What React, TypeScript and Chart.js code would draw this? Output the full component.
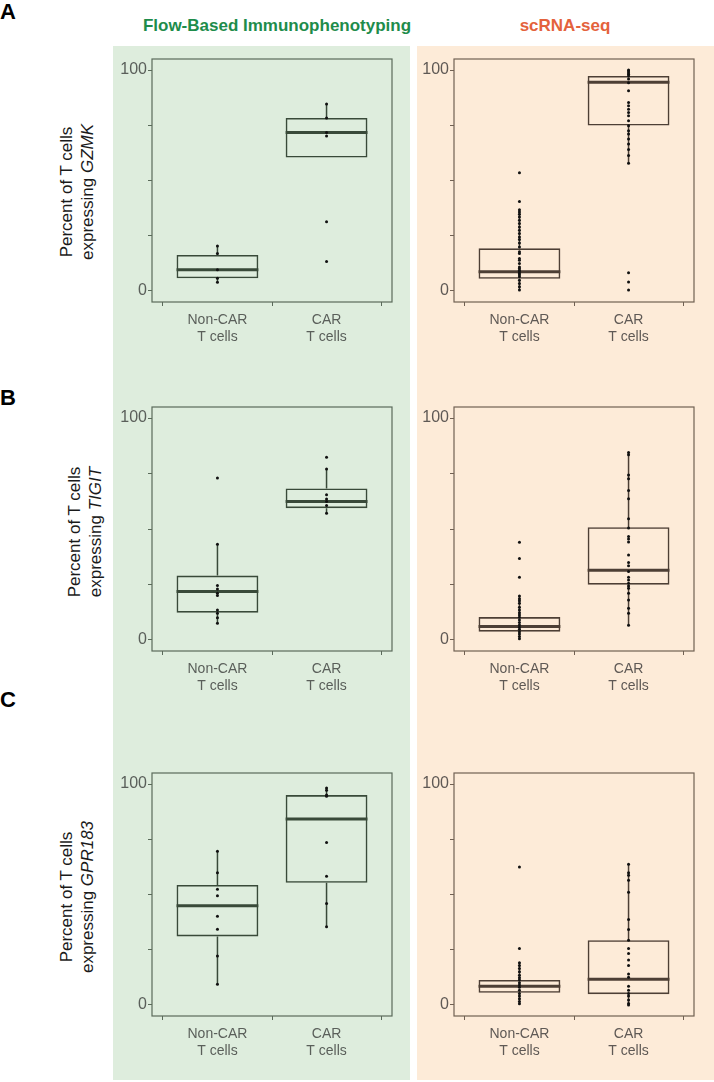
import React, { useEffect, useRef } from "react";
import { Chart, registerables } from "chart.js";
Chart.register(...registerables);

// ---------- data ----------
const categories = [["Non-CAR", "T cells"], ["CAR", "T cells"]];
const yTickValues = [0, 25, 50, 75, 100];
const yTickLabels = ["0", "", "", "", "100"];
const columnTitles = ["Flow-Based Immunophenotyping", "scRNA-seq"];
const rowLetters = ["A", "B", "C"];
const genes = ["GZMK", "TIGIT", "GPR183"];

// box stats per category: [lower whisker, Q1, median, Q3, upper whisker]
const gzmkFlowBoxes = [[3.9, 5.7, 9.6, 16.3, 20.3], [60.4, 60.4, 71.7, 78.3, 84.6]];
const gzmkFlowNonCar = [20.3, 16.9, 9.6, 5.7, 3.9];
const gzmkFlowCar = [84.6, 78.3, 71.7, 70.2, 31.3, 13.3];

const gzmkScBoxes = [[0.4, 5.5, 8.7, 19.3, 36.8], [57.8, 74.9, 94.5, 97.3, 100]];
const gzmkScNonCar = [53.5, 40.5, 36.8, 35.7, 34.7, 33.5, 32.0, 30.5, 28.9, 27.5, 26.0, 24.4, 23.3, 21.7, 19.9, 17.7, 16.9, 14.7, 13.9, 12.4, 10.9, 10.2, 9.4, 8.7, 7.9, 7.2, 6.4, 4.9, 3.4, 1.9, 0.4];
const gzmkScCar = [100, 99.6, 98.8, 98.1, 97.3, 95.9, 94.3, 90.6, 85.3, 83.8, 82.3, 80.8, 79.3, 77.1, 74.8, 72.5, 71.1, 68.8, 66.5, 64.0, 61.3, 57.8, 8.2, 4.0, 0.4];

const tigitFlowBoxes = [[7.5, 12.3, 21.8, 29.0, 43.1], [57.1, 59.4, 62.4, 68.3, 77.0]];
const tigitFlowNonCar = [73.0, 43.1, 24.5, 23.0, 21.0, 20.0, 13.5, 12.0, 10.0, 7.5];
const tigitFlowCar = [82.4, 77.0, 65.4, 63.5, 62.4, 60.6, 57.1];

const tigitScBoxes = [[0.5, 3.7, 6.1, 10.3, 19.8], [6.6, 24.9, 31.4, 50.8, 84.5]];
const tigitScNonCar = [44.0, 36.7, 28.3, 19.8, 18.6, 17.7, 16.5, 14.7, 13.5, 12.3, 11.2, 10.2, 9.0, 7.8, 6.7, 5.7, 4.8, 3.7, 2.7, 1.5, 0.5];
const tigitScCar = [84.5, 83.5, 74.4, 72.6, 67.4, 63.6, 54.6, 50.4, 46.6, 45.5, 44.1, 38.3, 34.9, 33.4, 30.8, 28.3, 27.0, 25.5, 24.3, 23.3, 21.0, 18.0, 14.3, 12.0, 6.6];

const gpr183FlowBoxes = [[9.4, 31.0, 44.9, 54.3, 69.6], [35.4, 55.3, 84.2, 95.0, 98.2]];
const gpr183FlowNonCar = [69.6, 59.9, 52.4, 49.4, 40.1, 34.3, 22.2, 9.4];
const gpr183FlowCar = [98.2, 97.2, 95.0, 94.5, 73.5, 58.3, 45.9, 35.4];

const gpr183ScBoxes = [[0.6, 5.5, 8.5, 11.3, 19.1], [0, 4.9, 11.6, 29.3, 63.7]];
const gpr183ScNonCar = [62.5, 25.6, 19.1, 17.9, 16.5, 15.0, 13.5, 12.3, 11.3, 10.0, 9.0, 8.0, 6.7, 5.2, 4.0, 2.8, 1.6, 0.6];
const gpr183ScCar = [63.7, 59.8, 58.7, 56.5, 51.0, 38.7, 34.2, 29.3, 25.6, 23.3, 20.3, 17.9, 14.0, 12.5, 8.5, 6.7, 5.2, 4.0, 2.2, 0.7, 0];

// ---------- styling / layout ----------
const FONT = "'Liberation Sans', Arial, Helvetica, sans-serif";
const greenBg = "#deeddd";
const orangeBg = "#fdebd8";
const greenTitle = "#1e8c4b";
const orangeTitle = "#e4623c";
const themes = {
  green: { frame: "#5a6a5a", line: "#394a39", tick: "#5a5f5a" },
  orange: { frame: "#716153", line: "#4d3f35", tick: "#5f5955" },
};

const PADL = 44;
const PADT = 12;
const PADR = 8;
const XH = 50;

type PanelProps = {
  boxes: number[][];
  groups: number[][];
  left: number;
  top: number;
  width: number;
  height: number;
  theme: "green" | "orange";
};

function BoxPanel({ boxes, groups, left, top, width, height, theme }: PanelProps) {
  const ref = useRef<HTMLCanvasElement>(null);
  const cw = width + PADL + PADR;
  const ch = height + PADT + XH;
  useEffect(() => {
    const t = themes[theme];
    const whiskers: any[] = [];
    const medians: any[] = [];
    boxes.forEach((b, i) => {
      whiskers.push({ x: i, y: b[0] }, { x: i, y: b[1] }, { x: i, y: null });
      whiskers.push({ x: i, y: b[3] }, { x: i, y: b[4] }, { x: i, y: null });
      medians.push({ x: i - 0.375, y: b[2] }, { x: i + 0.375, y: b[2] }, { x: i, y: null });
    });
    const points = groups.flatMap((g, i) => g.map((v) => ({ x: i, y: v })));
    const frame = {
      id: "frame",
      afterDraw(chart: any) {
        const { ctx, chartArea: a } = chart;
        ctx.save();
        ctx.strokeStyle = t.frame;
        ctx.lineWidth = 1.2;
        ctx.strokeRect(a.left, a.top, a.right - a.left, a.bottom - a.top);
        ctx.restore();
      },
    };
    const chart = new Chart(ref.current as HTMLCanvasElement, {
      type: "scatter",
      data: {
        datasets: [
          {
            type: "scatter",
            data: points,
            pointRadius: 1.5,
            pointBackgroundColor: "#111",
            pointBorderWidth: 0,
            order: 0,
          } as any,
          {
            type: "line",
            data: medians,
            borderColor: t.line,
            borderWidth: 3,
            pointRadius: 0,
            spanGaps: false,
            order: 1,
          } as any,
          {
            type: "bar",
            data: boxes.map((b, i) => ({ x: i, y: [b[1], b[3]] })),
            backgroundColor: "rgba(0,0,0,0)",
            borderColor: t.line,
            borderWidth: 1.6,
            borderSkipped: false,
            categoryPercentage: 0.75,
            barPercentage: 1,
            order: 2,
          } as any,
          {
            type: "line",
            data: whiskers,
            borderColor: t.line,
            borderWidth: 1.5,
            pointRadius: 0,
            spanGaps: false,
            order: 3,
          } as any,
        ],
      },
      options: {
        animation: false,
        responsive: false,
        maintainAspectRatio: false,
        events: [],
        layout: { padding: { left: 0, top: PADT, right: PADR, bottom: 0 } },
        plugins: { legend: { display: false }, tooltip: { enabled: false } },
        scales: {
          x: {
            type: "linear",
            min: -0.6,
            max: 1.6,
            offset: false,
            afterBuildTicks: (s: any) => {
              s.ticks = categories.map((_, i) => ({ value: i }));
            },
            afterFit: (s: any) => {
              s.height = XH;
            },
            ticks: {
              autoSkip: false,
              maxRotation: 0,
              minRotation: 0,
              padding: 6,
              color: t.tick,
              font: { family: FONT, size: 14, lineHeight: 1.2 },
              callback: (_v: any, i: number) => categories[i],
            },
            grid: { drawOnChartArea: false, drawTicks: true, tickLength: 4, color: t.frame, lineWidth: 1 },
            border: { display: false },
          },
          y: {
            type: "linear",
            min: -5,
            max: 105,
            afterBuildTicks: (s: any) => {
              s.ticks = yTickValues.map((v) => ({ value: v }));
            },
            afterFit: (s: any) => {
              s.width = PADL;
            },
            ticks: {
              padding: 1,
              color: t.tick,
              font: { family: FONT, size: 16, lineHeight: 1.2 },
              callback: (_v: any, i: number) => yTickLabels[i],
            },
            grid: { drawOnChartArea: false, drawTicks: true, tickLength: 4, color: t.frame, lineWidth: 1 },
            border: { display: false },
          },
        },
      } as any,
      plugins: [frame],
    });
    return () => chart.destroy();
  }, []);
  return (
    <canvas
      ref={ref}
      width={cw}
      height={ch}
      style={{ position: "absolute", left: left - PADL, top: top - PADT, width: cw, height: ch }}
    />
  );
}

function YTitle({ cx, cy, gene }: { cx: number; cy: number; gene: string }) {
  return (
    <div
      style={{
        position: "absolute",
        left: cx - 110,
        top: cy - 21,
        width: 220,
        height: 42,
        lineHeight: "21px",
        fontSize: 17,
        fontFamily: FONT,
        color: "#1a1a1a",
        textAlign: "center",
        whiteSpace: "nowrap",
        transform: "rotate(-90deg)",
      }}
    >
      <div>Percent of T cells</div>
      <div>
        expressing <i>{gene}</i>
      </div>
    </div>
  );
}

const rowTops = [59, 407, 773];
const rowHeights = [243, 244, 243];
const colLefts = [152, 454];
const colWidth = 240;
const letterTops = [1, 387, 689];
const yTitlePos = [
  [77, 192],
  [85, 532],
  [77, 897],
];

const panelData = [
  [gzmkFlowBoxes, [gzmkFlowNonCar, gzmkFlowCar], gzmkScBoxes, [gzmkScNonCar, gzmkScCar]],
  [tigitFlowBoxes, [tigitFlowNonCar, tigitFlowCar], tigitScBoxes, [tigitScNonCar, tigitScCar]],
  [gpr183FlowBoxes, [gpr183FlowNonCar, gpr183FlowCar], gpr183ScBoxes, [gpr183ScNonCar, gpr183ScCar]],
];

export default function App() {
  return (
    <div
      style={{
        position: "absolute",
        left: 0,
        top: 0,
        width: 714,
        height: 1082,
        background: "#fff",
        fontFamily: FONT,
        overflow: "hidden",
      }}
    >
      <div style={{ position: "absolute", left: 113, top: 46, width: 297, height: 1034, background: greenBg }} />
      <div style={{ position: "absolute", left: 417, top: 46, width: 297, height: 1034, background: orangeBg }} />
      <div
        style={{
          position: "absolute",
          left: 77,
          top: 17,
          width: 400,
          textAlign: "center",
          fontWeight: "bold",
          fontSize: 17,
          lineHeight: "17px",
          color: greenTitle,
          whiteSpace: "nowrap",
        }}
      >
        {columnTitles[0]}
      </div>
      <div
        style={{
          position: "absolute",
          left: 365,
          top: 17,
          width: 400,
          textAlign: "center",
          fontWeight: "bold",
          fontSize: 17,
          lineHeight: "17px",
          color: orangeTitle,
          whiteSpace: "nowrap",
        }}
      >
        {columnTitles[1]}
      </div>
      {rowLetters.map((L, r) => (
        <div
          key={L}
          style={{
            position: "absolute",
            left: 0,
            top: letterTops[r],
            fontWeight: "bold",
            fontSize: 22,
            lineHeight: "22px",
            color: "#000",
          }}
        >
          {L}
        </div>
      ))}
      {genes.map((g, r) => (
        <YTitle key={g} cx={yTitlePos[r][0]} cy={yTitlePos[r][1]} gene={g} />
      ))}
      {panelData.map((row, r) => (
        <React.Fragment key={r}>
          <BoxPanel
            boxes={row[0] as number[][]}
            groups={row[1] as number[][]}
            left={colLefts[0]}
            top={rowTops[r]}
            width={colWidth}
            height={rowHeights[r]}
            theme="green"
          />
          <BoxPanel
            boxes={row[2] as number[][]}
            groups={row[3] as number[][]}
            left={colLefts[1]}
            top={rowTops[r]}
            width={colWidth}
            height={rowHeights[r]}
            theme="orange"
          />
        </React.Fragment>
      ))}
    </div>
  );
}
